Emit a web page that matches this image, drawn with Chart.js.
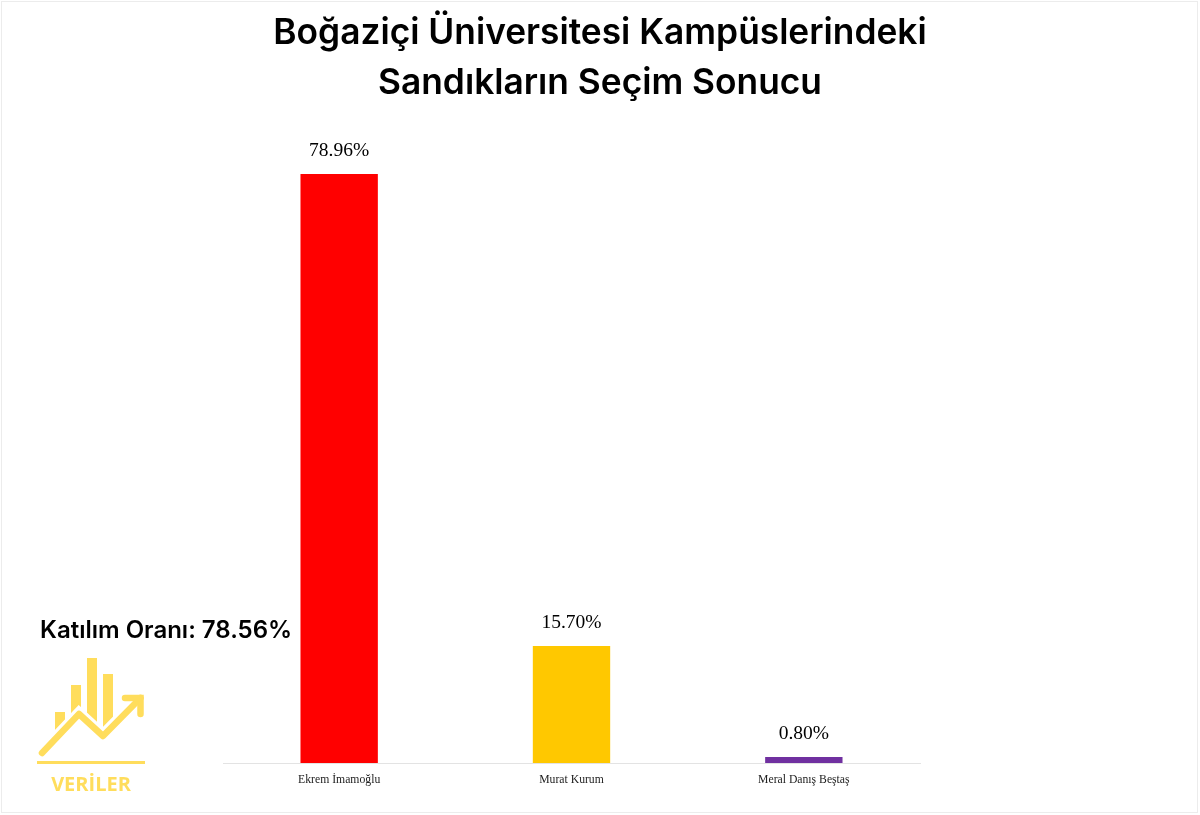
<!DOCTYPE html>
<html lang="tr">
<head>
<meta charset="utf-8">
<style>
html,body{margin:0;padding:0;background:#fff;}
#wrap{position:relative;width:1200px;height:815px;overflow:hidden;background:#fff;}
#frame{position:absolute;left:1px;top:1px;width:1197px;height:812px;border:1px solid #ececec;box-sizing:border-box;pointer-events:none;}
canvas{position:absolute;left:0;top:0;}
#turnout{position:absolute;left:40px;top:614px;font:600 24px Inter,sans-serif;color:#000;white-space:nowrap;line-height:32px;}
#logo{position:absolute;left:0;top:640px;}
#brand{position:absolute;left:31px;width:120px;top:770px;text-align:center;font:700 20px "Open Sans",sans-serif;color:#FFDD5C;line-height:27px;}
</style>
</head>
<body>
<div id="wrap">
<canvas id="c" width="1200" height="815"></canvas>
<div id="frame"></div>
<div id="turnout">Katılım Oranı: 78.56%</div>
<svg id="logo" width="200" height="130" viewBox="0 640 200 130">
  <g fill="#FFDD5C">
    <rect x="55" y="712" width="10" height="19"/>
    <rect x="71" y="685" width="10" height="29"/>
    <rect x="87" y="658" width="10" height="64"/>
    <rect x="103" y="674" width="10" height="53"/>
  </g>
  <polyline points="42,753 79,714 103,736 140.5,698" fill="none" stroke="#fff" stroke-width="13" stroke-linejoin="miter"/>
  <polyline points="42,753 79,714 103,736 140.5,698" fill="none" stroke="#FFDD5C" stroke-width="6.5" stroke-linecap="round" stroke-linejoin="round"/>
  <polyline points="125,698 140.5,698 140.5,714" fill="none" stroke="#FFDD5C" stroke-width="6.5" stroke-linecap="round" stroke-linejoin="miter"/>
  <rect x="37" y="761" width="108" height="3" fill="#FFDD5C"/>
</svg>
<div id="brand">VERİLER</div>
</div>
<script src="https://cdn.jsdelivr.net/npm/chart.js@4/dist/chart.umd.min.js"></script>
<script>
const categories = ["Ekrem İmamoğlu", "Murat Kurum", "Meral Danış Beştaş"];
const seriesValues = [78.96, 15.70, 0.80];
const barColors = ["#FF0000", "#FFC800", "#7030A0"];
const titleLines = ["Boğaziçi Üniversitesi Kampüslerindeki", "Sandıkların Seçim Sonucu"];

const valueLabels = {
  id: "valueLabels",
  afterDatasetsDraw(chart) {
    const ctx = chart.ctx;
    const meta = chart.getDatasetMeta(0);
    ctx.save();
    ctx.font = '19.5px "Liberation Serif", serif';
    ctx.fillStyle = "#000";
    ctx.textAlign = "center";
    ctx.textBaseline = "middle";
    meta.data.forEach((bar, i) => {
      ctx.fillText(seriesValues[i].toFixed(2) + "%", bar.x, bar.y - 23);
    });
    ctx.restore();
  }
};

new Chart(document.getElementById("c"), {
  type: "bar",
  data: {
    labels: categories,
    datasets: [{
      data: seriesValues,
      backgroundColor: barColors,
      borderWidth: 0,
      categoryPercentage: 1,
      barPercentage: 0.333
    }]
  },
  plugins: [valueLabels],
  options: {
    responsive: false,
    animation: false,
    devicePixelRatio: 1,
    layout: { padding: 0 },
    plugins: {
      legend: { display: false },
      tooltip: { enabled: false },
      title: {
        display: true,
        text: titleLines,
        color: "#000",
        font: { family: "Inter, sans-serif", size: 35.3, weight: "600", lineHeight: 1.42 },
        padding: { top: 8, bottom: 58 }
      }
    },
    scales: {
      x: {
        grid: { display: false, drawTicks: false },
        border: { color: "#e3e3e3", width: 1 },
        ticks: {
          color: "#222",
          font: { family: '"Liberation Serif", serif', size: 11.7 },
          padding: 10,
          maxRotation: 0
        },
        afterFit(scale) { scale.height = 52; }
      },
      y: {
        position: "left",
        min: 0,
        max: 80,
        grid: { display: false },
        border: { display: false },
        ticks: { display: false },
        afterFit(scale) { scale.width = 223; }
      },
      yRight: {
        position: "right",
        min: 0,
        max: 80,
        grid: { display: false },
        border: { display: false },
        ticks: { display: false },
        afterFit(scale) { scale.width = 280; }
      }
    }
  }
});
</script>
</body>
</html>
